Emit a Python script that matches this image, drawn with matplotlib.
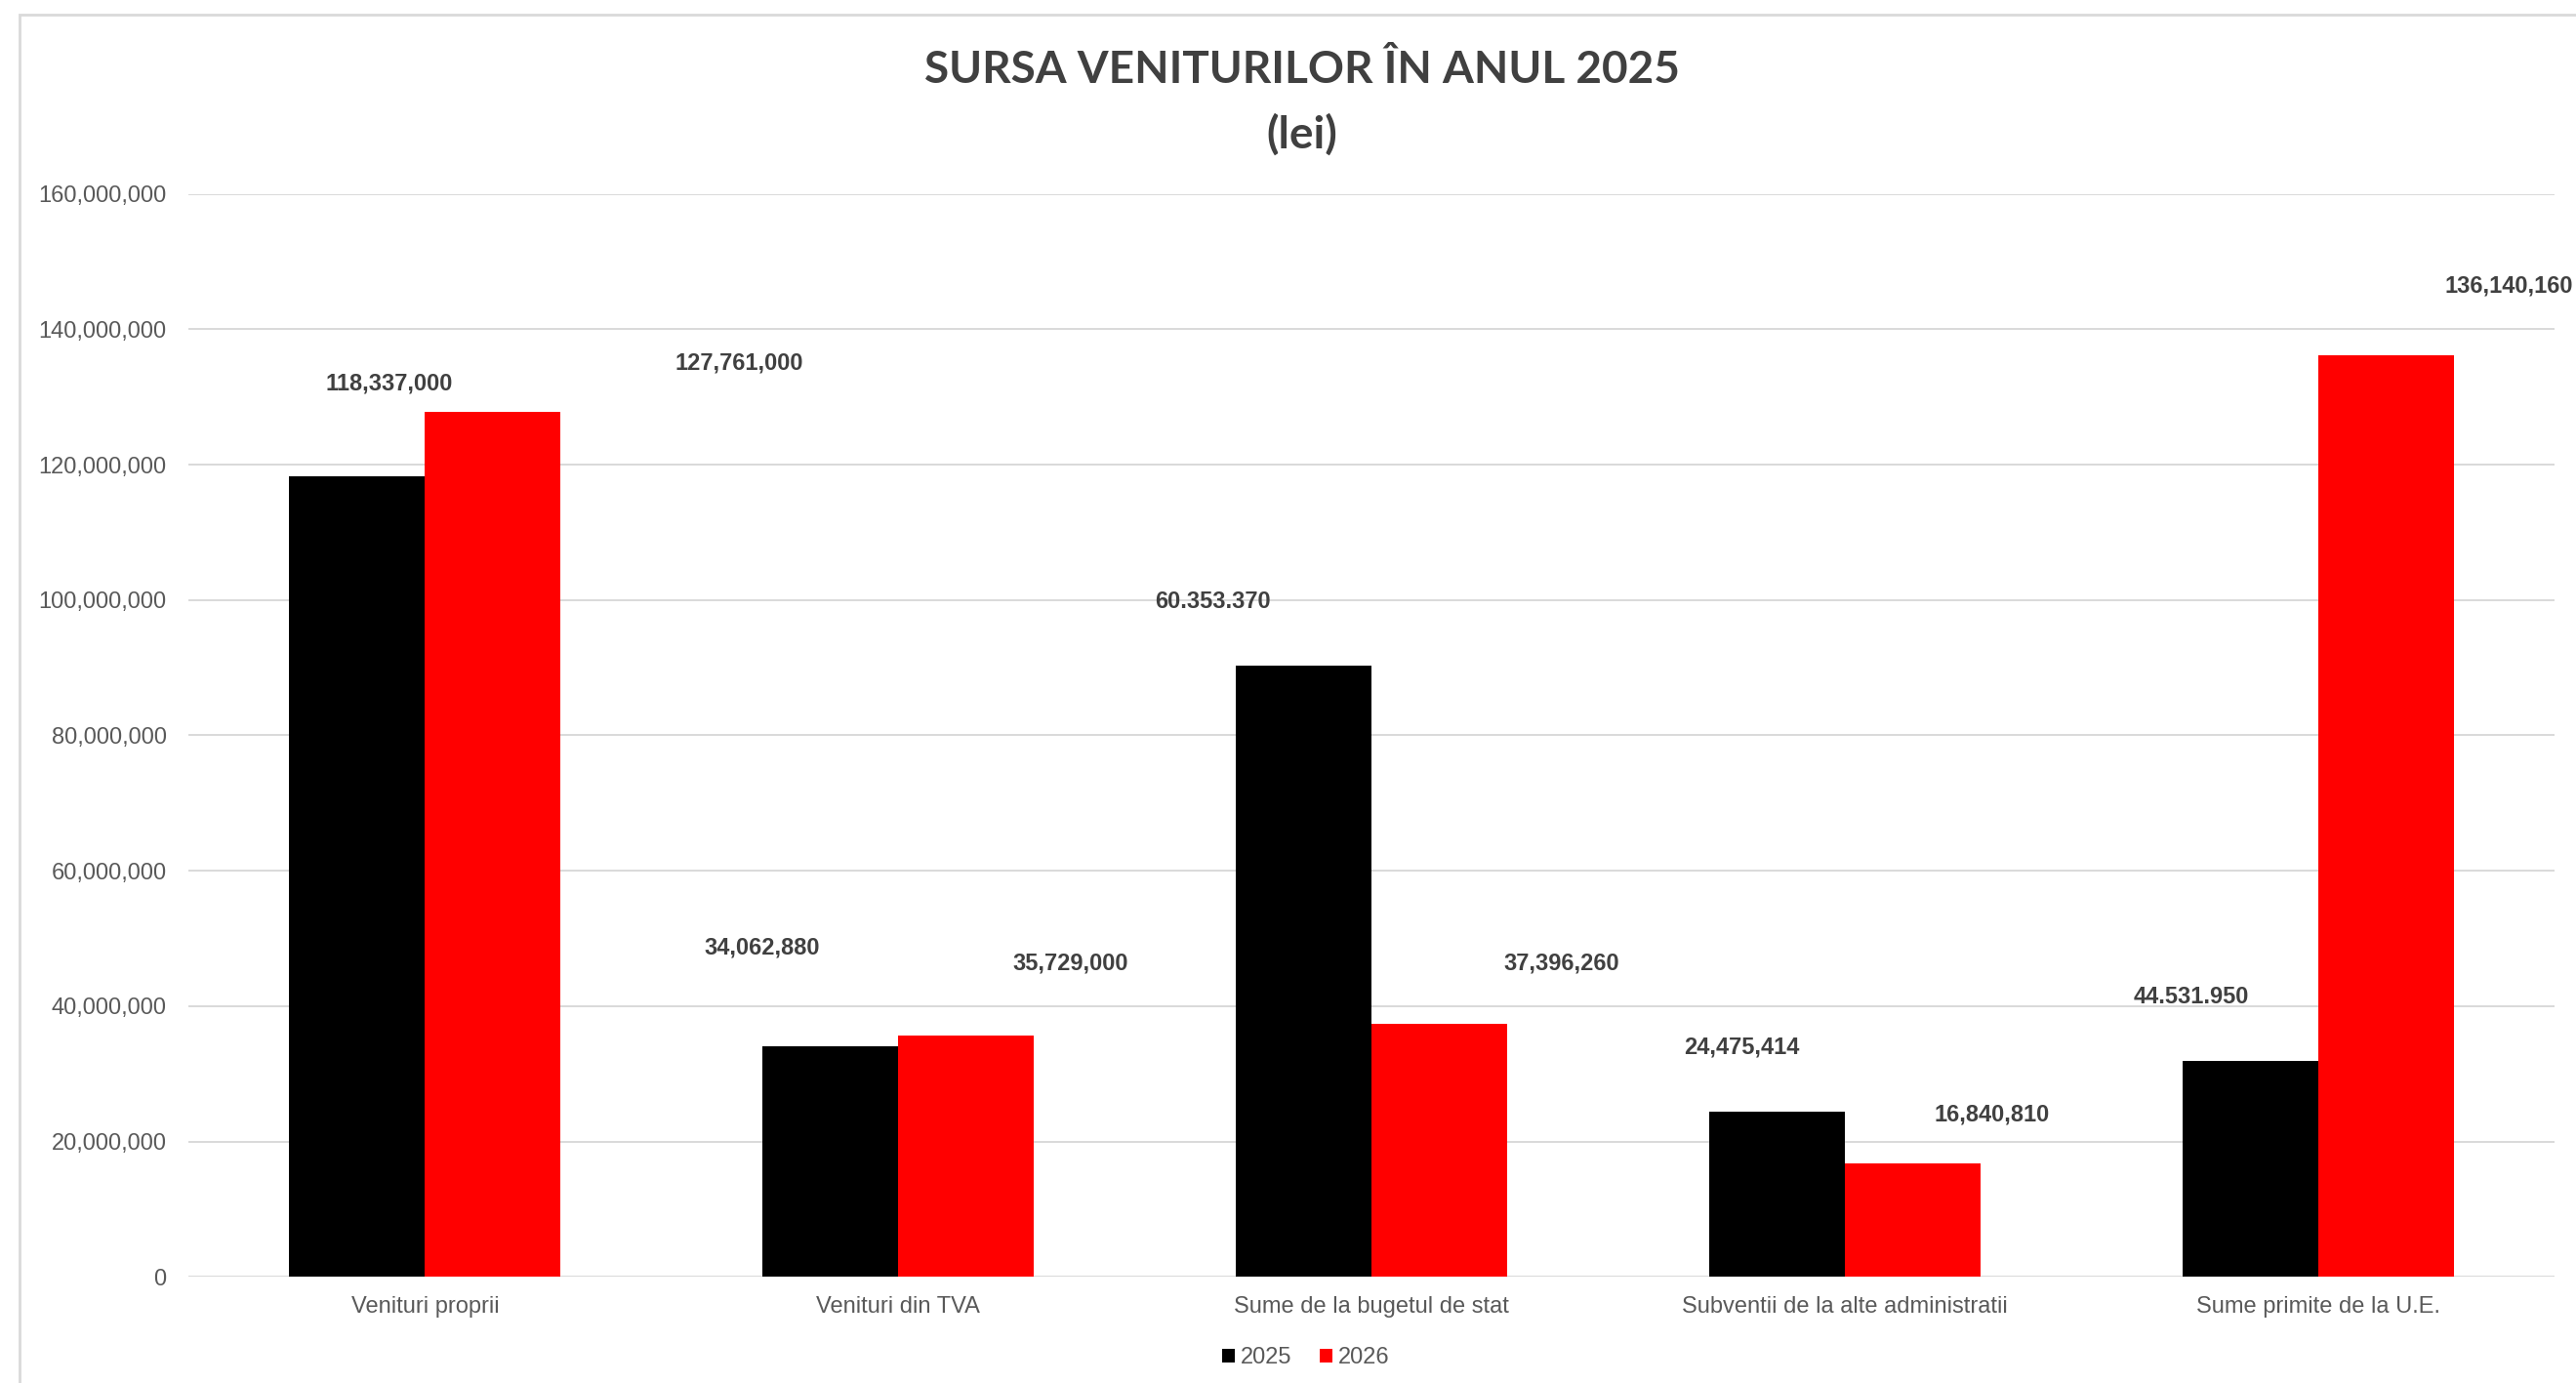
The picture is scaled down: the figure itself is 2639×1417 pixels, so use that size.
import matplotlib
matplotlib.use("Agg")
import matplotlib.pyplot as plt
from matplotlib.patches import Rectangle
from matplotlib.ticker import FuncFormatter
import numpy as np

# Data
categories = ['Venituri proprii', 'Venituri din TVA', 'Sume de la bugetul de stat',
              'Subventii de la alte administratii', 'Sume primite de la U.E.']
val_2025 = [118337000, 34062880, 90350000, 24475414, 31950000]
val_2026 = [127761000, 35729000, 37396260, 16840810, 136140160]

# data labels as they appear on the chart (manually placed in the original)
labels_text = ['118,337,000', '127,761,000', '34,062,880', '35,729,000',
               '60.353.370', '37,396,260', '24,475,414', '16,840,810',
               '44.531.950', '136,140,160']
labels_x = [-0.075, 0.665, 0.713, 1.364, 1.665, 2.402, 2.782, 3.311, 3.733, 4.404]
labels_y = [132.0e6, 135.0e6, 48.7e6, 46.3e6, 99.8e6, 46.3e6, 33.9e6, 24.0e6, 41.4e6, 146.4e6]

plt.rcParams['font.family'] = ['Liberation Sans', 'DejaVu Sans']

fig = plt.figure(figsize=(26.39, 14.17), dpi=100)
ax = fig.add_axes([0.0731, 0.0767, 0.9186, 0.7831])

x = np.arange(len(categories))
w = 0.2867
ax.bar(x - w / 2, val_2025, w, color='black', label='2025', zorder=3)
ax.bar(x + w / 2, val_2026, w, color='#ff0000', label='2026', zorder=3)

for t, lx, ly in zip(labels_text, labels_x, labels_y):
    ax.text(lx, ly, t, ha='center', va='center', fontsize=17, fontweight='bold',
            color='#404040', clip_on=False, zorder=4)

ax.set_xlim(-0.5, len(categories) - 0.5)
ax.set_ylim(0, 160e6)
ax.set_yticks(np.arange(0, 160e6 + 1, 20e6))
ax.yaxis.set_major_formatter(FuncFormatter(lambda v, p: f'{int(v):,}'))
ax.set_xticks(x)
ax.set_xticklabels(categories)
ax.tick_params(axis='both', length=0, labelsize=17, labelcolor='#595959')
ax.tick_params(axis='y', pad=16)
ax.tick_params(axis='x', pad=14)
ax.grid(axis='y', color='#d9d9d9', linewidth=1.4, zorder=0)
for s in ax.spines.values():
    s.set_visible(False)

# title
fig.text(0.5055, 1 - 72 / 1417, 'SURSA VENITURILOR ÎN ANUL 2025', ha='center', va='center',
         fontsize=33, fontweight='bold', family='Lato', color='#404040')
fig.text(0.5055, 1 - 138 / 1417, '(lei)', ha='center', va='center',
         fontsize=33, fontweight='bold', family='Lato', color='#404040')

fig.legend(loc='center', bbox_to_anchor=(1338 / 2639, 1 - 1391 / 1417), ncol=2, frameon=False,
           fontsize=17, labelcolor='#595959', handlelength=0.55, handleheight=0.55,
           handletextpad=0.25, columnspacing=1.2)

# chart area border
fig.patches.append(Rectangle((20 / 2639, -0.1), 1.2, 1 - 15 / 1417 + 0.1, transform=fig.transFigure,
                             fill=False, edgecolor='#d9d9d9', linewidth=2, zorder=0))

plt.savefig('out.png', dpi=100)
